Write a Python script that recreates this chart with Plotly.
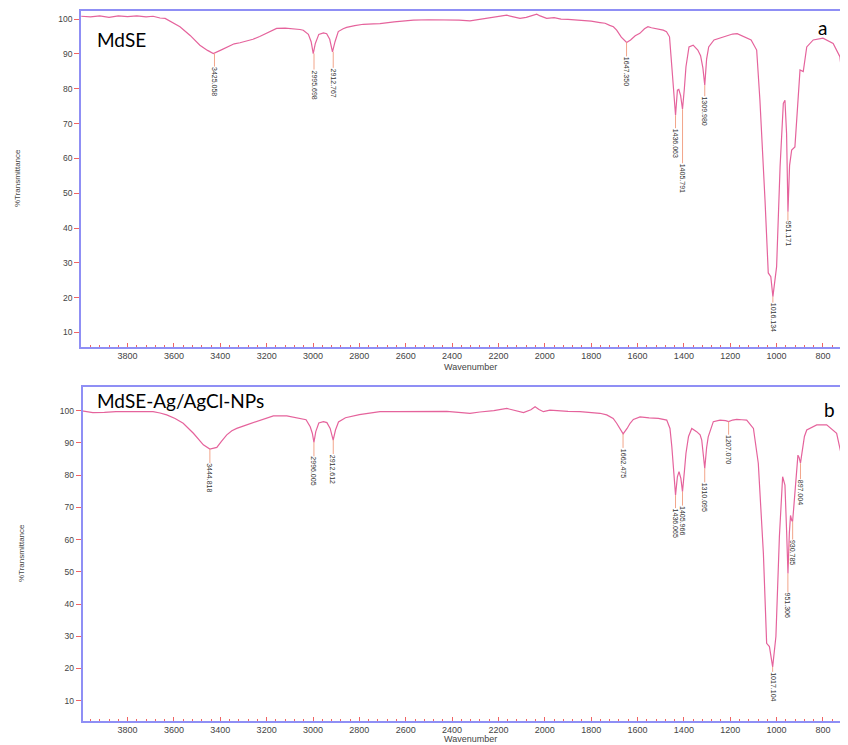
import plotly.graph_objects as go

# ---------------- data: spectrum (a) MdSE ----------------
wn_a = [4000, 3960, 3920, 3880, 3840, 3800, 3760, 3720, 3690, 3660, 3638, 3610, 3574, 3530,
        3488, 3455, 3430, 3400, 3372, 3340, 3315, 3285, 3259, 3230, 3200, 3157, 3120, 3099,
        3070, 3056, 3042, 3020, 3008, 2999, 2990, 2975, 2955, 2941, 2928, 2916, 2905, 2891,
        2870, 2855, 2820, 2783, 2740, 2711, 2650, 2600, 2567, 2500, 2423, 2370, 2323, 2300,
        2280, 2230, 2190, 2164, 2140, 2107, 2080, 2050, 2035, 2020, 2000, 1992, 1960, 1930,
        1900, 1848, 1800, 1762, 1740, 1720, 1704, 1690, 1670, 1647, 1630, 1610, 1590, 1570,
        1555, 1540, 1520, 1500, 1489, 1475, 1462, 1452, 1445, 1436, 1428, 1422, 1414, 1406,
        1398, 1391, 1378, 1360, 1340, 1328, 1318, 1310, 1302, 1293, 1270, 1220, 1190, 1170,
        1140, 1110, 1086, 1072, 1050, 1036, 1025, 1016, 1000, 985, 971, 964, 957, 951, 944,
        935, 921, 906, 899, 885, 870, 842, 800, 756, 727, 705, 697.3, 690]
t_a = [100.8, 100.6, 100.9, 100.5, 100.9, 100.7, 100.9, 100.6, 100.8, 100.3, 100.2, 99.2, 97.8, 95.3,
       92.5, 91.0, 90.1, 91.0, 92.0, 92.9, 93.2, 93.7, 94.2, 95.0, 95.9, 97.3, 97.4, 97.3,
       97.1, 97.0, 96.8, 95.6, 93.5, 90.1, 93.0, 95.6, 96.0, 95.8, 94.2, 90.6, 93.5, 96.4,
       97.2, 97.6, 98.1, 98.5, 98.6, 98.7, 99.2, 99.5, 99.7, 99.8, 99.8, 99.7, 99.5, 99.7,
       100.0, 100.4, 100.8, 101.1, 100.7, 100.2, 100.5, 101.0, 101.4, 100.9, 100.3, 100.2, 100.4, 100.0,
       99.9, 99.7, 99.4, 99.0, 98.8, 98.2, 97.8, 96.8, 94.8, 93.3, 94.0, 95.2, 95.9, 97.2,
       97.8, 97.5, 97.3, 96.9, 96.8, 96.4, 94.9, 86.3, 79.5, 72.4, 79.6, 79.8, 78.0, 74.1,
       80.0, 86.3, 92.0, 92.5, 91.1, 89.5, 86.0, 81.0, 88.5, 92.0, 94.0, 95.1, 95.7, 95.8,
       94.9, 94.0, 91.1, 76.7, 48.0, 27.1, 26.0, 20.3, 28.9, 57.6, 75.8, 76.7, 67.2, 44.7, 58.0,
       62.4, 63.3, 78.7, 85.4, 84.9, 92.0, 94.0, 94.5, 93.0, 89.2, 76.7, 55.0, 60.0]

peak_labels_a = ["3425.058", "2995.698", "2912.767", "1647.350", "1436.063", "1405.791",
                 "1309.980", "1016.134", "951.171", "697.312"]
peak_wn_a = [3425.058, 2995.698, 2912.767, 1647.350, 1436.063, 1405.791,
             1309.980, 1016.134, 951.171, 697.312]
peak_t_a = [90.1, 90.1, 90.6, 93.3, 72.4, 74.1, 81.0, 20.3, 44.7, 55.0]

# ---------------- data: spectrum (b) MdSE-Ag/AgCl-NPs ----------------
wn_b = [4000, 3950, 3900, 3850, 3776, 3720, 3690, 3660, 3631, 3595, 3560, 3516, 3473, 3445,
        3415, 3395, 3372, 3350, 3329, 3286, 3229, 3171, 3113, 3056, 3030, 3012, 3003, 2996,
        2988, 2975, 2955, 2940, 2926, 2913, 2903, 2890, 2860, 2800, 2750, 2711, 2650, 2567,
        2500, 2423, 2360, 2323, 2280, 2220, 2164, 2130, 2092, 2060, 2042, 2025, 2006, 1978,
        1930, 1900, 1848, 1800, 1762, 1733, 1705, 1690, 1675, 1662, 1645, 1632, 1618, 1589,
        1550, 1510, 1474, 1460, 1452, 1444, 1436, 1428, 1421, 1413, 1406, 1398, 1391, 1380,
        1366, 1345, 1330, 1323, 1316, 1310, 1302, 1295, 1273, 1244, 1220, 1207, 1190, 1172,
        1150, 1129, 1100, 1079, 1057, 1043, 1031, 1017, 1003, 988, 974, 964, 957, 951, 945,
        940, 935, 931, 926, 915, 908, 903, 897, 892, 880, 870, 827, 784, 741, 713, 697.3, 690]
t_b = [100.0, 99.4, 99.5, 99.7, 99.7, 99.8, 99.7, 99.3, 98.7, 97.6, 96.1, 93.0, 89.4, 88.1,
       88.6, 90.5, 92.5, 93.8, 94.5, 95.6, 97.1, 98.4, 98.4, 97.6, 97.2, 95.0, 93.0, 90.2,
       93.5, 96.2, 96.6, 96.3, 94.5, 90.9, 94.0, 96.5, 97.8, 98.8, 99.3, 99.7, 99.7, 99.7,
       99.8, 99.8, 99.4, 99.2, 99.6, 100.0, 100.7, 100.1, 99.4, 100.3, 101.2, 100.4, 99.7, 100.2,
       99.9, 99.8, 99.7, 99.5, 99.2, 98.7, 97.6, 96.1, 94.2, 92.8, 94.5, 96.1, 97.3, 98.1,
       97.8, 97.6, 97.1, 94.5, 88.8, 80.5, 73.8, 79.5, 81.1, 79.0, 74.9, 81.0, 86.8, 92.0,
       94.5, 93.5, 92.5, 90.9, 86.0, 82.1, 88.5, 91.9, 96.6, 97.1, 96.9, 96.6, 97.1, 97.3,
       97.2, 97.1, 94.5, 83.7, 55.7, 27.8, 26.8, 20.5, 29.9, 60.9, 79.5, 76.9, 63.0, 49.5, 62.0,
       67.5, 66.0, 65.6, 70.0, 79.5, 86.2, 85.5, 83.7, 86.2, 92.0, 94.0, 95.6, 95.6, 93.0, 83.7, 56.8, 60.0]

peak_labels_b = ["3444.818", "2996.005", "2912.612", "1662.475", "1436.065", "1405.966",
                 "1310.095", "1207.070", "1017.104", "951.306", "930.785", "897.004", "697.321"]
peak_wn_b = [3444.818, 2996.005, 2912.612, 1662.475, 1436.065, 1405.966,
             1310.095, 1207.070, 1017.104, 951.306, 930.785, 897.004, 697.321]
peak_t_b = [88.1, 90.2, 90.9, 92.8, 73.8, 74.9, 82.1, 96.6, 20.5, 49.5, 65.6, 83.7, 56.8]

x_ticks = [3800, 3600, 3400, 3200, 3000, 2800, 2600, 2400, 2200, 2000, 1800, 1600, 1400, 1200, 1000, 800]
y_ticks = [10, 20, 30, 40, 50, 60, 70, 80, 90, 100]

# ---------------- styles ----------------
CURVE = "#e5639c"
AXIS = "#8f8ff5"
TICK = "#f06464"
LEADER = "#f2a58a"
TXT = "#444444"
OFF = 8                      # page body margin of the html page
W, H = 848 - OFF, 745 - OFF  # figure size so the page does not overflow

# per-label pixel offsets (label centre below the peak)
offs_a = [28, 31, 31, 29, 28, 69, 26, 21, 22, 24]
offs_b = [29, 29, 29, 29, 28, 29, 29, 28, 20, 32, 31, 29, 22]

def fxp(x):
    return (x - OFF) / W

def fyp(y):
    return 1 - (y - OFF) / H

fig = go.Figure()
fig.add_trace(go.Scatter(x=wn_a, y=t_a, mode="lines", line=dict(color=CURVE, width=1.2),
                         xaxis="x", yaxis="y", showlegend=False, hoverinfo="skip"))
fig.add_trace(go.Scatter(x=wn_b, y=t_b, mode="lines", line=dict(color=CURVE, width=1.2),
                         xaxis="x2", yaxis="y2", showlegend=False, hoverinfo="skip"))

annotations = []
lab_font = dict(family="Liberation Sans, Arial", size=7, color="#333")
for lab, xw, yt, off in zip(peak_labels_a, peak_wn_a, peak_t_a, offs_a):
    annotations.append(dict(x=xw, y=yt, xref="x", yref="y", text=lab, textangle=90,
                            showarrow=True, arrowhead=0, arrowwidth=1, arrowcolor=LEADER,
                            ax=0, ay=off, borderpad=0, font=lab_font))
for lab, xw, yt, off in zip(peak_labels_b, peak_wn_b, peak_t_b, offs_b):
    annotations.append(dict(x=xw, y=yt, xref="x2", yref="y2", text=lab, textangle=90,
                            showarrow=True, arrowhead=0, arrowwidth=1, arrowcolor=LEADER,
                            ax=0, ay=off, borderpad=0, font=lab_font))

big = dict(family="Lato, Open Sans, sans-serif", size=19, color="black")
small = dict(family="Liberation Sans, Arial", size=8, color=TXT)
wfont = dict(family="Liberation Sans, Arial", size=9, color=TXT)
for text, (x, y), xa, font, ang in [
    ("MdSE", (95, 39), "left", big, 0),
    ("a", (822, 28), "center", big, 0),
    ("MdSE-Ag/AgCl-NPs", (95, 400), "left", big, 0),
    ("b", (829, 409), "center", big, 0),
    ("Wavenumber", (470, 367.5), "center", wfont, 0),
    ("Wavenumber", (470, 738.5), "center", wfont, 0),
    ("%Transmittance", (17, 178), "center", small, -90),
    ("%Transmittance", (21, 553), "center", small, -90),
]:
    annotations.append(dict(x=fxp(x), y=fyp(y), xref="paper", yref="paper", text=text,
                            showarrow=False, xanchor=xa, yanchor="middle", font=font,
                            textangle=ang))

xcommon = dict(autorange=False, showgrid=False, zeroline=False, showline=True, linecolor=AXIS,
               linewidth=1.5, mirror=True, ticks="inside", ticklen=4, tickcolor=TICK, tickwidth=1,
               tickmode="array", tickvals=x_ticks,
               ticktext=[str(v) for v in x_ticks],
               tickfont=dict(family="Liberation Sans, Arial", size=9, color=TXT),
               minor=dict(dtick=40, tick0=0, ticks="inside", ticklen=2, tickcolor=TICK, tickwidth=1))
ycommon = dict(autorange=False, showgrid=False, zeroline=False, showline=True, linecolor=AXIS,
               linewidth=1.5, ticks="outside", ticklen=5, tickcolor=TICK, tickwidth=1,
               tickmode="array", tickvals=y_ticks,
               tickfont=dict(family="Liberation Sans, Arial", size=8.5, color=TXT))

fig.update_layout(
    width=W, height=H, margin=dict(l=0, r=0, t=0, b=0),
    paper_bgcolor="white", plot_bgcolor="white", showlegend=False,
    xaxis=dict(domain=[fxp(81), 1], range=[4000.9, 692], anchor="y", **xcommon),
    yaxis=dict(domain=[fyp(346.5), fyp(10.7)], range=[5.98, 102.4], anchor="x", **ycommon),
    xaxis2=dict(domain=[fxp(82.5), 1], range=[3994.4, 692], anchor="y2", **xcommon),
    yaxis2=dict(domain=[fyp(720.7), fyp(386.7)], range=[3.79, 107.45], anchor="x2", **ycommon),
    annotations=annotations,
)

fig.write_html("out.html")
